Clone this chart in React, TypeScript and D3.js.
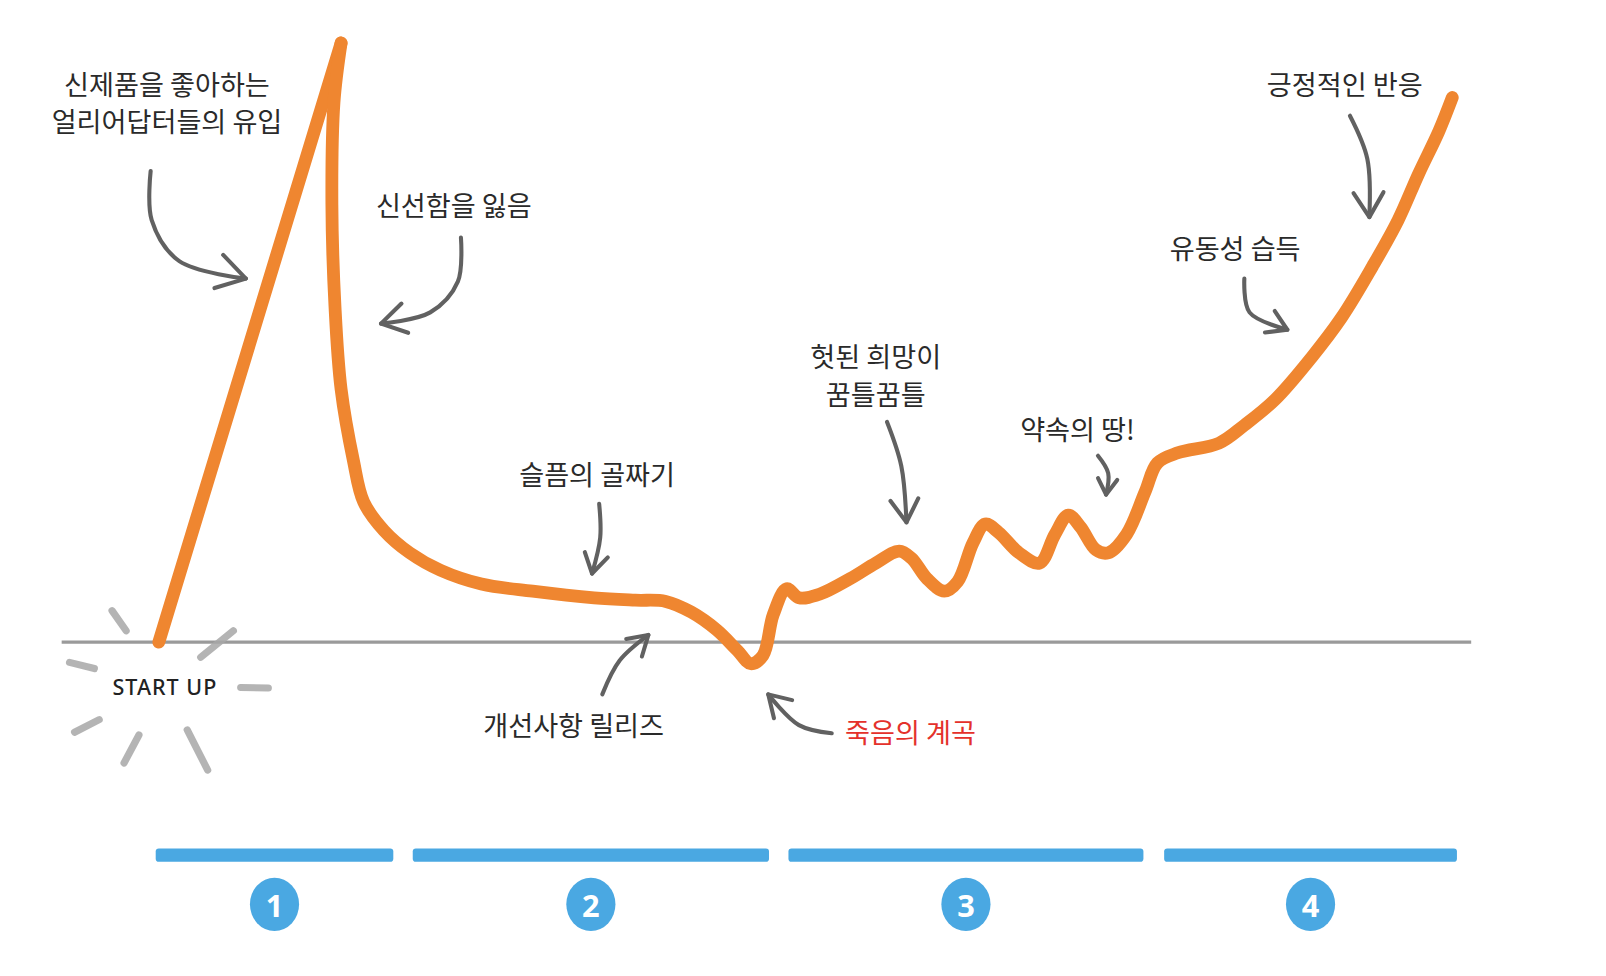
import React from "react";
import * as d3 from "d3";

// ---- data (time 0..100, sentiment 0..100, baseline = 0) ----
const riseX = [0, 14.07];
const riseY = [0, 100];

const curveX = [14.07, 13.52, 13.36, 13.6, 14.07, 15.02, 15.81, 17.39, 19.37, 21.74, 24.9, 28.85, 33.6, 36.76, 39.13, 41.11, 43.08, 44.66, 45.69, 46.64, 47.43, 48.46, 49.41, 50.99, 53.36, 55.34, 57.15, 58.1, 59.29, 60.63, 61.66, 62.85, 63.79, 64.82, 66.4, 67.98, 69.17, 70.2, 71.15, 72.33, 73.28, 74.7, 76.13, 77.08, 78.66, 81.82, 83.79, 86.17, 88.93, 91.3, 93.68, 95.65, 97.23, 98.81, 99.84];
const curveY = [100, 90.1, 73.0, 55.9, 42.2, 30.3, 23.4, 18.6, 14.9, 12.0, 9.7, 8.5, 7.4, 7.0, 6.8, 5.0, 2.0, -1.4, -3.6, -2.2, 4.6, 8.9, 7.4, 8.0, 10.6, 13.2, 15.2, 14.0, 10.6, 8.5, 10.1, 16.6, 19.7, 18.3, 14.9, 13.2, 18.0, 21.2, 19.2, 15.4, 14.9, 18.0, 25.1, 29.9, 31.6, 33.2, 36.2, 40.5, 47.4, 54.2, 62.7, 70.4, 78.1, 85.3, 90.9];

const baselineExtent = [-7.5, 101.3];

const phaseLabels = ["1", "2", "3", "4"];
const phaseStart = [-0.24, 19.6, 48.6, 77.6];
const phaseEnd = [18.1, 47.1, 76.0, 100.2];

const labelTexts = [
  "신제품을 좋아하는",
  "얼리어답터들의 유입",
  "신선함을 잃음",
  "슬픔의 골짜기",
  "헛된 희망이",
  "꿈틀꿈틀",
  "약속의 땅!",
  "유동성 습득",
  "긍정적인 반응",
  "개선사항 릴리즈",
  "죽음의 계곡",
];
const labelX = [0.63, 0.63, 22.77, 33.83, 55.34, 55.34, 70.91, 83.08, 91.54, 32.02, 58.02];
const labelY = [93.16, 87.01, 72.99, 28.21, 47.86, 41.54, 35.73, 65.81, 93.16, -13.68, -14.87];
const labelRed = [false, false, false, false, false, false, false, false, false, false, true];

const startLabel = "START UP";
const startX = 0.47;
const startY = -7.35;

// arrows: lists of [x, y] in data units
const arrowPaths: [number, number][][] = [
  [[-0.63, 78.63], [-0.55, 70.43], [1.58, 63.59], [6.72, 60.68]],
  [[23.32, 67.52], [23.08, 60.17], [20.95, 55.04], [17.15, 53.16]],
  [[33.99, 23.08], [34.07, 17.44], [33.44, 11.45]],
  [[56.21, 36.75], [57.31, 29.4], [57.71, 20.0]],
  [[72.49, 31.11], [73.28, 28.21], [73.12, 24.62]],
  [[83.79, 60.68], [84.19, 55.04], [87.11, 52.14]],
  [[91.94, 87.86], [93.28, 80.68], [93.44, 70.94]],
  [[34.23, -8.72], [35.57, -3.08], [37.79, 1.2]],
  [[51.94, -15.21], [49.41, -13.85], [47.04, -8.72]],
];
const arrowHeadSize = [32, 28, 22, 26, 18, 22, 28, 22, 24];

// start-up burst rays: [angleDeg, innerR, outerR]
const burstAngle = [-125, -39, -166, 1, 153, 118, 63];
const burstInner = [66, 45, 71, 74, 72, 54, 48];
const burstOuter = [90, 86, 96, 101, 99, 85, 92];

export default function App() {
  const W = 1568;
  const H = 953;
  const x = d3.scaleLinear().domain([0, 100]).range([155, 1420]);
  const y = d3.scaleLinear().domain([0, 100]).range([627, 42]);

  const orange = "#EF8630";
  const blue = "#4AA8E2";
  const arrowCol = "#616161";

  const riseLine = d3
    .line<number>()
    .x((_, i) => x(riseX[i]))
    .y((d) => y(d))(riseY);

  const mainLine = d3
    .line<number>()
    .x((_, i) => x(curveX[i]))
    .y((d) => y(d))
    .curve(d3.curveCatmullRom.alpha(0.5))(curveY);

  const arrowLine = d3
    .line<[number, number]>()
    .x((d) => x(d[0]))
    .y((d) => y(d[1]))
    .curve(d3.curveCatmullRom.alpha(0.5));

  const barY = 835;
  const barH = 13;
  const circleY = 883;

  const cx0 = x(startX);
  const cy0 = y(startY);

  return (
    <svg
      width={1606}
      height={976}
      viewBox={`0 0 ${W} ${H}`}
      style={{ position: "absolute", left: 0, top: 0, background: "#fff" }}
    >
      <rect x={0} y={0} width={W} height={H} fill="#fff" />
      {/* baseline */}
      <line
        x1={x(baselineExtent[0])}
        x2={x(baselineExtent[1])}
        y1={y(0)}
        y2={y(0)}
        stroke="#9a9a9a"
        strokeWidth={3}
      />
      {/* burst */}
      <g stroke="#a8a8a8" strokeWidth={7} strokeLinecap="round" opacity={0.85}>
        {burstAngle.map((a, i) => {
          const r = (a * Math.PI) / 180;
          return (
            <line
              key={i}
              x1={cx0 + Math.cos(r) * burstInner[i]}
              y1={cy0 + Math.sin(r) * burstInner[i]}
              x2={cx0 + Math.cos(r) * burstOuter[i]}
              y2={cy0 + Math.sin(r) * burstOuter[i]}
            />
          );
        })}
      </g>
      <text
        x={cx0}
        y={cy0}
        textAnchor="middle"
        dominantBaseline="central"
        fontFamily="'Noto Sans', 'DejaVu Sans', sans-serif"
        fontSize={21}
        fontWeight={500}
        fill="#222"
        letterSpacing={1}
      >
        {startLabel}
      </text>

      {/* arrows */}
      <g stroke={arrowCol} strokeWidth={4} strokeLinecap="round" strokeLinejoin="round" fill="none">
        {arrowPaths.map((pts, i) => {
          const n = pts.length;
          const tx = x(pts[n - 1][0]);
          const ty = y(pts[n - 1][1]);
          const px = x(pts[n - 2][0]);
          const py = y(pts[n - 2][1]);
          const ang = Math.atan2(ty - py, tx - px);
          const s = arrowHeadSize[i];
          const b1 = ang + Math.PI - 0.55;
          const b2 = ang + Math.PI + 0.55;
          return (
            <g key={i}>
              <path d={arrowLine(pts) || ""} />
              <path
                d={`M${tx + Math.cos(b1) * s},${ty + Math.sin(b1) * s}L${tx},${ty}L${tx + Math.cos(b2) * s},${ty + Math.sin(b2) * s}`}
              />
            </g>
          );
        })}
      </g>

      {/* main curve */}
      <path d={riseLine || ""} stroke={orange} strokeWidth={12.5} fill="none" strokeLinecap="round" strokeLinejoin="round" />
      <path d={mainLine || ""} stroke={orange} strokeWidth={12.5} fill="none" strokeLinecap="round" strokeLinejoin="round" />

      {/* labels */}
      {labelTexts.map((t, i) => (
        <text
          key={i}
          x={x(labelX[i])}
          y={y(labelY[i])}
          textAnchor="middle"
          dominantBaseline="central"
          fontFamily="'Noto Sans CJK KR', sans-serif"
          fontSize={26.5}
          fill={labelRed[i] ? "#E4312B" : "#2a2a2a"}
        >
          {t}
        </text>
      ))}

      {/* phases */}
      {phaseLabels.map((p, i) => {
        const x0 = x(phaseStart[i]);
        const x1 = x(phaseEnd[i]);
        const cx = (x0 + x1) / 2;
        return (
          <g key={p}>
            <rect x={x0} y={barY - barH / 2} width={x1 - x0} height={barH} rx={3} fill={blue} />
            <ellipse cx={cx} cy={circleY} rx={24} ry={26} fill={blue} />
            <text
              x={cx}
              y={circleY + 1}
              textAnchor="middle"
              dominantBaseline="central"
              fontFamily="'Noto Sans', sans-serif"
              fontWeight={700}
              fontSize={30}
              fill="#fff"
            >
              {p}
            </text>
          </g>
        );
      })}
    </svg>
  );
}
